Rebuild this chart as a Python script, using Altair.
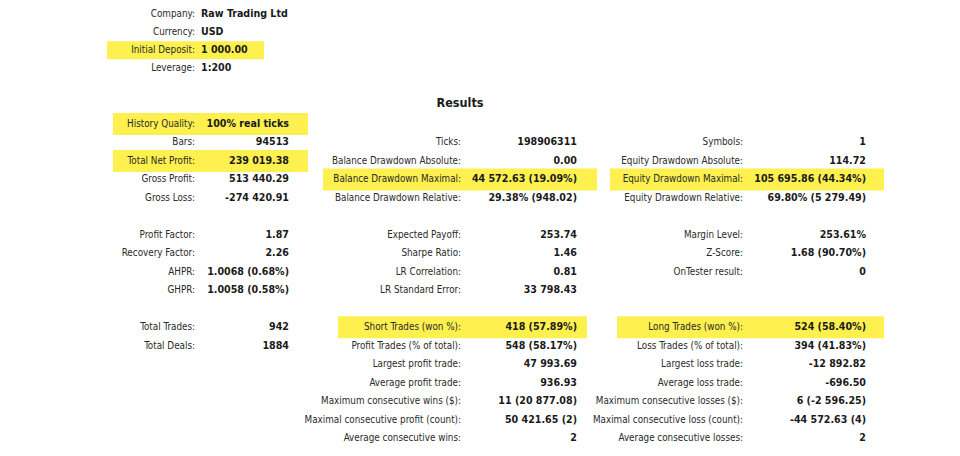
import altair as alt
import pandas as pd

# ---------------- data ----------------
header_labels = ["Company:", "Currency:", "Initial Deposit:", "Leverage:"]
header_values = ["Raw Trading Ltd", "USD", "1 000.00", "1:200"]
header_marked = [False, False, True, False]

title_text = "Results"

col1_labels = ["History Quality:", "Bars:", "Total Net Profit:", "Gross Profit:", "Gross Loss:", "",
               "Profit Factor:", "Recovery Factor:", "AHPR:", "GHPR:", "",
               "Total Trades:", "Total Deals:"]
col1_values = ["100% real ticks", "94513", "239 019.38", "513 440.29", "-274 420.91", "",
               "1.87", "2.26", "1.0068 (0.68%)", "1.0058 (0.58%)", "",
               "942", "1884"]
col1_marked = [0, 2]

col2_labels = ["", "Ticks:", "Balance Drawdown Absolute:", "Balance Drawdown Maximal:",
               "Balance Drawdown Relative:", "",
               "Expected Payoff:", "Sharpe Ratio:", "LR Correlation:", "LR Standard Error:", "",
               "Short Trades (won %):", "Profit Trades (% of total):", "Largest profit trade:",
               "Average profit trade:", "Maximum consecutive wins ($):",
               "Maximal consecutive profit (count):", "Average consecutive wins:"]
col2_values = ["", "198906311", "0.00", "44 572.63 (19.09%)", "29.38% (948.02)", "",
               "253.74", "1.46", "0.81", "33 798.43", "",
               "418 (57.89%)", "548 (58.17%)", "47 993.69", "936.93", "11 (20 877.08)",
               "50 421.65 (2)", "2"]
col2_marked = [3, 11]

col3_labels = ["", "Symbols:", "Equity Drawdown Absolute:", "Equity Drawdown Maximal:",
               "Equity Drawdown Relative:", "",
               "Margin Level:", "Z-Score:", "OnTester result:", "", "",
               "Long Trades (won %):", "Loss Trades (% of total):", "Largest loss trade:",
               "Average loss trade:", "Maximum consecutive losses ($):",
               "Maximal consecutive loss (count):", "Average consecutive losses:"]
col3_values = ["", "1", "114.72", "105 695.86 (44.34%)", "69.80% (5 279.49)", "",
               "253.61%", "1.68 (90.70%)", "0", "", "",
               "524 (58.40%)", "394 (41.83%)", "-12 892.82", "-696.50", "6 (-2 596.25)",
               "-44 572.63 (4)", "2"]
col3_marked = [3, 11]

# ---------------- layout (not data) ----------------
W, H = 944, 440
FONT = "DejaVu Sans Condensed"
FS_LABEL = 9.8
FS_VALUE = 10.6
HEAD_Y0, HEAD_STEP = 14, 18.1
RES_Y0, RES_STEP = 124, 18.47
TITLE_X, TITLE_Y = 460, 103
HEAD_LABEL_X, HEAD_VALUE_X = 195, 201
LABEL_X = [195, 461, 743]
VALUE_X = [289, 577, 866]
MARK_SPAN = {  # (col, row) -> x extent of highlight
    ("h", 2): (107, 264),
    (0, 0): (113, 308), (0, 2): (113, 308),
    (1, 3): (323, 597), (1, 11): (338, 587),
    (2, 3): (610, 884), (2, 11): (617, 884),
}
HALF = 10

labels_rows, values_rows, marks = [], [], []
for i, (lab, val) in enumerate(zip(header_labels, header_values)):
    y = HEAD_Y0 + i * HEAD_STEP
    labels_rows.append({"x": HEAD_LABEL_X, "y": y, "t": lab})
    values_rows.append({"x": HEAD_VALUE_X, "y": y, "t": val, "a": "left"})
    if header_marked[i]:
        x0, x1 = MARK_SPAN[("h", i)]
        marks.append({"x": x0, "x2": x1, "y": y - HALF + 1, "y2": y + HALF - 1})

cols = [(col1_labels, col1_values, col1_marked),
        (col2_labels, col2_values, col2_marked),
        (col3_labels, col3_values, col3_marked)]
for c, (labs, vals, mk) in enumerate(cols):
    for r, (lab, val) in enumerate(zip(labs, vals)):
        y = RES_Y0 + r * RES_STEP
        if lab:
            labels_rows.append({"x": LABEL_X[c], "y": y, "t": lab})
        if val:
            values_rows.append({"x": VALUE_X[c], "y": y, "t": val, "a": "right"})
        if r in mk:
            x0, x1 = MARK_SPAN[(c, r)]
            marks.append({"x": x0, "x2": x1, "y": y - HALF - 1, "y2": y + HALF + 1})

lab_df = pd.DataFrame(labels_rows)
val_df = pd.DataFrame(values_rows)
mark_df = pd.DataFrame(marks)
title_df = pd.DataFrame([{"x": TITLE_X, "y": TITLE_Y, "t": title_text}])

xs = alt.Scale(domain=[8, 8 + W], nice=False, zero=False)
ys = alt.Scale(domain=[8, 8 + H], nice=False, zero=False, reverse=True)

rects = alt.Chart(mark_df).mark_rect(color="#fdf04f").encode(
    x=alt.X("x:Q", scale=xs, axis=None), x2="x2:Q",
    y=alt.Y("y:Q", scale=ys, axis=None), y2="y2:Q")

labels = alt.Chart(lab_df).mark_text(
    align="right", baseline="middle", font=FONT, fontSize=FS_LABEL, color="#2a2a2a").encode(
    x=alt.X("x:Q", scale=xs, axis=None), y=alt.Y("y:Q", scale=ys, axis=None), text="t:N")

vals_r = alt.Chart(val_df[val_df.a == "right"]).mark_text(
    align="right", baseline="middle", font=FONT, fontSize=FS_VALUE, fontWeight="bold",
    color="#1a1a1a").encode(
    x=alt.X("x:Q", scale=xs, axis=None), y=alt.Y("y:Q", scale=ys, axis=None), text="t:N")

vals_l = alt.Chart(val_df[val_df.a == "left"]).mark_text(
    align="left", baseline="middle", font=FONT, fontSize=FS_VALUE, fontWeight="bold",
    color="#1a1a1a").encode(
    x=alt.X("x:Q", scale=xs, axis=None), y=alt.Y("y:Q", scale=ys, axis=None), text="t:N")

title = alt.Chart(title_df).mark_text(
    align="center", baseline="middle", font=FONT, fontSize=12.5, fontWeight="bold",
    color="#1a1a1a").encode(
    x=alt.X("x:Q", scale=xs, axis=None), y=alt.Y("y:Q", scale=ys, axis=None), text="t:N")

chart = alt.layer(rects, labels, vals_r, vals_l, title).properties(
    width=W, height=H, padding=0, autosize=alt.AutoSizeParams(type="none"),
    background="white"
).configure_view(stroke=None)

chart.save("out.html", embed_options={"renderer": "svg", "actions": False})
